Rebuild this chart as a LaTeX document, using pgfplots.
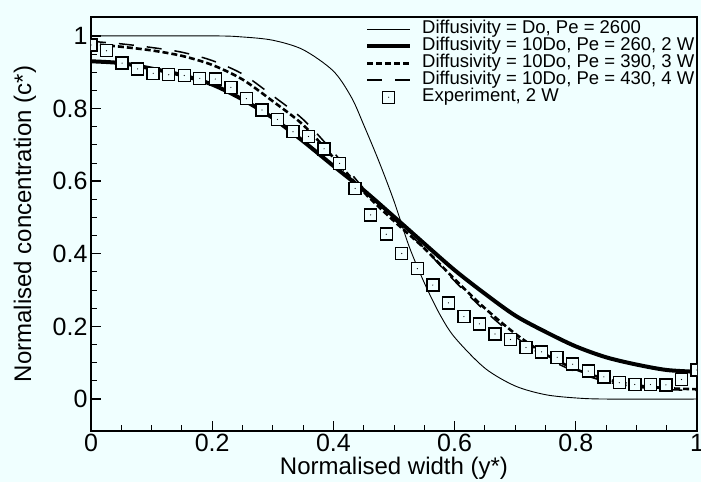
\documentclass[border=0pt]{standalone}
\usepackage{fontspec}
\setmainfont{Liberation Sans}
\usepackage{pgfplots}
\pgfplotsset{compat=1.18}
\definecolor{bgcol}{RGB}{240,255,255}

% square with a small dot in the middle
\pgfdeclareplotmark{sqdot}{%
  \pgfpathrectangle{\pgfpoint{-\pgfplotmarksize}{-\pgfplotmarksize}}{\pgfpoint{2\pgfplotmarksize}{2\pgfplotmarksize}}%
  \pgfusepathqfillstroke
  \begin{pgfscope}%
  \pgfsetfillcolor{black}%
  \pgfpathcircle{\pgfpointorigin}{0.6pt}%
  \pgfusepathqfill
  \end{pgfscope}%
}
\pgfplotsset{marklegend/.style={legend image code/.code={\draw[##1] plot coordinates {(21.5pt,0pt)};}}}

\begin{document}
\begin{tikzpicture}
\fill[bgcol] (-91pt,-51pt) rectangle (610pt,431pt);
\useasboundingbox (-91pt,-51pt) rectangle (610pt,431pt);
\begin{axis}[
    scale only axis, width=606pt, height=414pt,
    xmin=0, xmax=1, ymin=-0.088, ymax=1.052,
    clip marker paths=true,
    axis line style={line width=1.5pt},
    tick pos=left, tick align=inside,
    xtick={0,0.2,0.4,0.6,0.8,1}, ytick={0,0.2,0.4,0.6,0.8,1},
    minor xtick={0.05,0.1,0.15,0.25,0.3,0.35,0.45,0.5,0.55,0.65,0.7,0.75,0.85,0.9,0.95},
    minor ytick={0.05,0.1,0.15,0.25,0.3,0.35,0.45,0.5,0.55,0.65,0.7,0.75,0.85,0.9,0.95},
    major tick length=10pt, minor tick length=6pt,
    major tick style={line width=1.3pt, black},
    minor tick style={line width=0.9pt, black},
    /pgf/number format/assume math mode=true,
    ticklabel style={font=\fontsize{25}{25}\selectfont},
    label style={font=\fontsize{24}{24}\selectfont},
    xlabel={Normalised width (y*)},
    ylabel={Normalised concentration (c*)},
    xlabel style={at={(axis description cs:0.5,-0.089)}, anchor=center},
    ylabel style={at={(axis description cs:-0.109,0.5)}, anchor=center},
    legend cell align=left,
    legend style={at={(axis description cs:0.4521,0.9903)}, anchor=north west,
        draw=none, fill=none, inner sep=0pt, row sep=1pt,
        font=\fontsize{18.5}{18.5}\selectfont,
        nodes={inner sep=0pt, text height=12pt, text depth=4pt},
        /tikz/every odd column/.append style={column sep=10pt}},
    legend image code/.code={\draw[#1] (0pt,0pt) -- (43pt,0pt);},
]
\addplot[black, line width=0.9pt, smooth] coordinates {
(0,1) (0.2,1.0) (0.25,0.997) (0.3,0.988) (0.35,0.962) (0.4,0.903) (0.43,0.83)
(0.45,0.755) (0.475,0.655) (0.5,0.545) (0.525,0.42) (0.55,0.32) (0.575,0.235)
(0.6,0.17) (0.65,0.085) (0.7,0.036) (0.75,0.012) (0.8,0.003) (0.85,0) (1,0)};
\addlegendentry{Diffusivity = Do, Pe = 2600}
\addplot[black, line width=4pt, smooth] coordinates {
(0,0.93) (0.05,0.925) (0.1,0.91) (0.15,0.892) (0.2,0.866) (0.25,0.825) (0.3,0.774)
(0.35,0.71) (0.4,0.642) (0.45,0.575) (0.5,0.502) (0.55,0.428) (0.6,0.355) (0.65,0.29)
(0.7,0.23) (0.75,0.185) (0.8,0.145) (0.85,0.115) (0.9,0.095) (0.95,0.08) (1,0.075)};
\addlegendentry{Diffusivity = 10Do, Pe = 260, 2 W}
\addplot[black, line width=2.6pt, dash pattern=on 6pt off 3pt, smooth] coordinates {
(0,0.978) (0.05,0.97) (0.1,0.96) (0.15,0.945) (0.2,0.92) (0.25,0.88) (0.3,0.82)
(0.35,0.755) (0.4,0.665) (0.45,0.57) (0.5,0.49) (0.55,0.415) (0.6,0.33) (0.65,0.25)
(0.7,0.18) (0.75,0.123) (0.8,0.082) (0.85,0.055) (0.9,0.038) (0.95,0.03) (1,0.027)};
\addlegendentry{Diffusivity = 10Do, Pe = 390, 3 W}
\addplot[black, line width=1.5pt, dash pattern=on 15pt off 13pt, smooth] coordinates {
(0,0.985) (0.05,0.978) (0.1,0.968) (0.15,0.955) (0.2,0.932) (0.25,0.895) (0.3,0.835)
(0.35,0.77) (0.4,0.68) (0.45,0.58) (0.5,0.495) (0.55,0.415) (0.6,0.325) (0.65,0.243)
(0.7,0.172) (0.75,0.115) (0.8,0.075) (0.85,0.048) (0.9,0.033) (0.95,0.026) (1,0.024)};
\addlegendentry{Diffusivity = 10Do, Pe = 430, 4 W}
\addplot[only marks, mark=sqdot, mark size=6pt, marklegend,
    mark options={draw=black, fill=bgcol, line width=1.4pt}] coordinates {
(0,0.975) (0.0256,0.959) (0.0513,0.925) (0.0769,0.909) (0.1026,0.897) (0.1282,0.893)
(0.1538,0.891) (0.1795,0.883) (0.2051,0.881) (0.2308,0.858) (0.2564,0.827) (0.2821,0.796)
(0.3077,0.770) (0.3333,0.736) (0.3590,0.723) (0.3846,0.689) (0.4103,0.649) (0.4359,0.580)
(0.4615,0.507) (0.4872,0.454) (0.5128,0.401) (0.5385,0.359) (0.5641,0.314) (0.5897,0.265)
(0.6154,0.227) (0.6410,0.207) (0.6667,0.179) (0.6923,0.164) (0.7179,0.142) (0.7436,0.130)
(0.7692,0.115) (0.7949,0.096) (0.8205,0.077) (0.8462,0.061) (0.8718,0.045) (0.8974,0.040)
(0.9231,0.040) (0.9487,0.039) (0.9744,0.054) (1,0.080)};
\addlegendentry{Experiment, 2 W}
\end{axis}
\end{tikzpicture}
\end{document}
